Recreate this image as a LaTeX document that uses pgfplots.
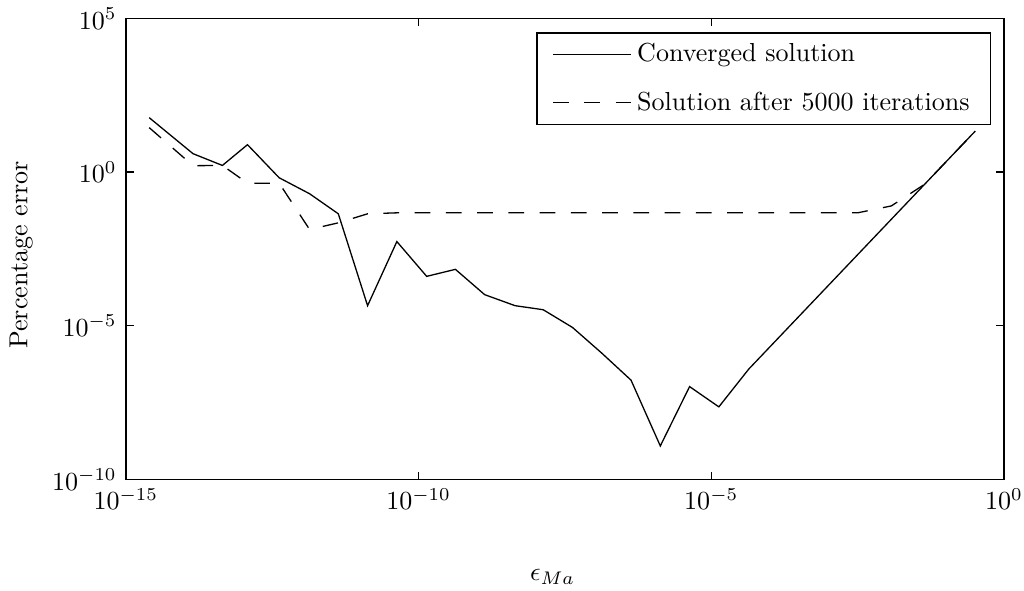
\documentclass[border=0pt]{standalone}
\usepackage{pgfplots}
\pgfplotsset{compat=1.18}
\begin{document}
\begin{tikzpicture}
\path[use as bounding box] (-48.3pt,-42.5pt) rectangle (344.9pt,184.1pt);
\begin{axis}[
  at={(0pt,0pt)}, anchor=south west,
  scale only axis,
  width=337.2pt, height=177.0pt,
  xmode=log, ymode=log,
  xmin=1e-15, xmax=1, ymin=1e-10, ymax=1e5,
  xtick={1e-15,1e-10,1e-5,1},
  ytick={1e-10,1e-5,1,1e5},
  xminorticks=false, yminorticks=false,
  major tick length=3pt,
  tick align=inside,
  axis line style={line width=0.7pt},
  every tick/.style={black, line width=0.5pt},
  xlabel={$\epsilon_{Ma}$},
  ylabel={Percentage error},
  xlabel style={at={(axis description cs:0.486,-0.212)}, anchor=center},
  ylabel style={at={(axis description cs:-0.119,0.487)}, anchor=center, rotate=0},
  legend style={at={(0.9855,0.9703)}, anchor=north east, draw=black, line width=0.6pt,
    row sep=6pt, inner xsep=6pt, inner ysep=2pt, cells={anchor=west}},
  legend image code/.code={\draw[#1, line width=0.5pt] (0pt,0pt) -- (30pt,0pt);},
]
\addplot[black, line width=0.5pt] coordinates {
(2.51e-15,59.4) (1.41e-14,3.98) (4.47e-14,1.65) (1.20e-13,7.82) (4.17e-13,0.656)
(1.38e-12,0.198) (4.27e-12,0.0441) (1.35e-11,4.51e-5) (4.27e-11,5.50e-3)
(1.38e-10,4.06e-4) (4.27e-10,6.87e-4) (1.35e-9,1.03e-4) (4.47e-9,4.51e-5)
(1.35e-8,3.33e-5) (4.27e-8,8.83e-6) (1.35e-7,1.29e-6) (4.27e-7,1.70e-7)
(1.35e-6,1.23e-9) (4.27e-6,1.05e-7) (1.35e-5,2.30e-8) (4.37e-5,3.89e-7)
(0.324,21.7)
};
\addlegendentry{Converged solution}
\addplot[black, line width=0.5pt, dash pattern=on 6pt off 6pt] coordinates {
(2.51e-15,28.1) (1.41e-14,1.62) (4.47e-14,1.65) (1.20e-13,0.438) (4.17e-13,0.438)
(1.38e-12,0.0136) (4.27e-12,0.0224) (1.35e-11,0.0441) (4.27e-11,0.0474)
(1.38e-10,0.0474) (1.35e-9,0.0474) (1.35e-8,0.0474) (1.35e-7,0.0474)
(1.35e-6,0.0474) (1.35e-5,0.0474) (1.35e-4,0.0474) (3.16e-3,0.0474)
(1.19e-2,0.0794) (4.43e-2,0.404) (0.324,21.7)
};
\addlegendentry{Solution after 5000 iterations}
\end{axis}
\end{tikzpicture}
\end{document}
